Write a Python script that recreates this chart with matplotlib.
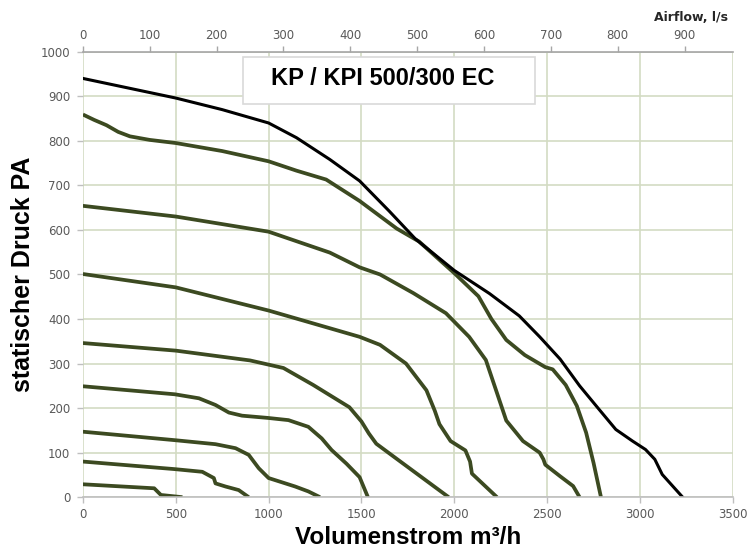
import matplotlib
matplotlib.use('Agg')
import matplotlib.pyplot as plt
from matplotlib.patches import Rectangle

# characteristic curves (x in m3/h, y in Pa)
max_x = [0, 250, 500, 750, 1000, 1150, 1330, 1490, 1650, 1790, 2000, 2190, 2350, 2460, 2570, 2675, 2780, 2870, 2960, 3030, 3080, 3120, 3230]
max_y = [940, 918, 896, 870, 840, 807, 758, 710, 642, 580, 509, 457, 407, 360, 310, 250, 197, 152, 126, 107, 85, 51, 0]

c860_x = [0, 60, 127, 190, 253, 360, 500, 750, 1000, 1150, 1310, 1490, 1690, 1810, 2000, 2130, 2200, 2280, 2380, 2490, 2530, 2600, 2660, 2710, 2750, 2790]
c860_y = [859, 847, 835, 820, 810, 802, 795, 777, 754, 733, 713, 665, 603, 574, 503, 451, 400, 353, 319, 292, 287, 252, 205, 145, 77, 0]

c655_x = [0, 500, 1000, 1330, 1490, 1600, 1780, 1955, 2080, 2170, 2225, 2280, 2370, 2460, 2480, 2490, 2570, 2640, 2675]
c655_y = [654, 630, 596, 549, 516, 500, 458, 413, 360, 308, 240, 172, 126, 100, 85, 73, 47, 25, 0]

c502_x = [0, 500, 1000, 1490, 1600, 1680, 1740, 1850, 1895, 1920, 1980, 2060, 2085, 2095, 2230]
c502_y = [501, 471, 419, 360, 342, 318, 300, 240, 194, 164, 126, 105, 80, 53, 0]

c348_x = [0, 500, 900, 1080, 1240, 1435, 1500, 1540, 1580, 1700, 1970]
c348_y = [346, 329, 307, 290, 252, 202, 170, 143, 120, 83, 0]

c250_x = [0, 495, 625, 714, 786, 857, 995, 1107, 1214, 1286, 1339, 1420, 1490, 1535]
c250_y = [249, 231, 222, 207, 190, 183, 178, 173, 158, 132, 106, 75, 45, 0]

c148_x = [0, 495, 714, 822, 893, 947, 1000, 1143, 1214, 1277]
c148_y = [147, 128, 119, 110, 95, 65, 43, 24, 13, 0]

c80_x = [0, 495, 643, 705, 714, 768, 839, 893]
c80_y = [80, 63, 57, 43, 31, 24, 16, 0]

c30_x = [0, 384, 420, 536]
c30_y = [29, 20, 5, 0]

x_ticks = [0, 500, 1000, 1500, 2000, 2500, 3000, 3500]
y_ticks = [0, 100, 200, 300, 400, 500, 600, 700, 800, 900, 1000]
ls_ticks = [0, 100, 200, 300, 400, 500, 600, 700, 800, 900]

olive = '#3c4a21'
tick_col = '#595959'
grid_col = '#d3dcc3'

fig = plt.figure(figsize=(7.47, 5.5), dpi=100)
ax = fig.add_axes([0.111, 0.096, 0.870, 0.810])

for xs, ys in [(c860_x, c860_y), (c655_x, c655_y), (c502_x, c502_y), (c348_x, c348_y),
               (c250_x, c250_y), (c148_x, c148_y), (c80_x, c80_y), (c30_x, c30_y)]:
    ax.plot(xs, ys, color=olive, lw=2.7, solid_capstyle='butt', solid_joinstyle='round')
ax.plot(max_x, max_y, color='black', lw=2.2, solid_joinstyle='round')

ax.set_xlim(0, 3500)
ax.set_ylim(0, 1000)
ax.set_xticks(x_ticks)
ax.set_yticks(y_ticks)
ax.grid(True, color=grid_col, lw=1.2)
ax.set_axisbelow(True)
ax.tick_params(colors='#bfbfbf', labelcolor=tick_col, labelsize=8.5, length=4, width=1)
ax.tick_params(axis='y', pad=5)
for s in ['left', 'right']:
    ax.spines[s].set_visible(False)
ax.spines['bottom'].set_color('#bfbfbf')
ax.spines['bottom'].set_linewidth(1.2)
ax.spines['top'].set_color('#a6a6a6')
ax.spines['top'].set_linewidth(1.2)

ax.set_xlabel('Volumenstrom m³/h', fontsize=17.5, fontweight='bold', family='Liberation Sans', labelpad=4)
ax.set_ylabel('statischer Druck PA', fontsize=18, fontweight='bold', family='Liberation Sans', labelpad=4)

# top axis in l/s
ax2 = ax.twiny()
ax2.set_xlim(0, 3500 / 3.6)
ax2.set_xticks(ls_ticks)
ax2.tick_params(colors='#a6a6a6', labelcolor=tick_col, labelsize=8.5, length=4, width=1, pad=3)
for s in ['left', 'right', 'bottom', 'top']:
    ax2.spines[s].set_visible(False)
fig.text(0.975, 0.968, 'Airflow, l/s', ha='right', va='center', fontsize=9, fontweight='bold', color='#262626')

# title box
ax.add_patch(Rectangle((0.246, 0.883), 0.449, 0.106, transform=ax.transAxes,
                       fc='white', ec='#d9d9d9', lw=1.2, zorder=5))
ax.text(0.462, 0.940, 'KP / KPI 500/300 EC', transform=ax.transAxes, ha='center', va='center',
        fontsize=17, fontweight='bold', family='Liberation Sans', zorder=6)

fig.savefig('out.png', dpi=100)
